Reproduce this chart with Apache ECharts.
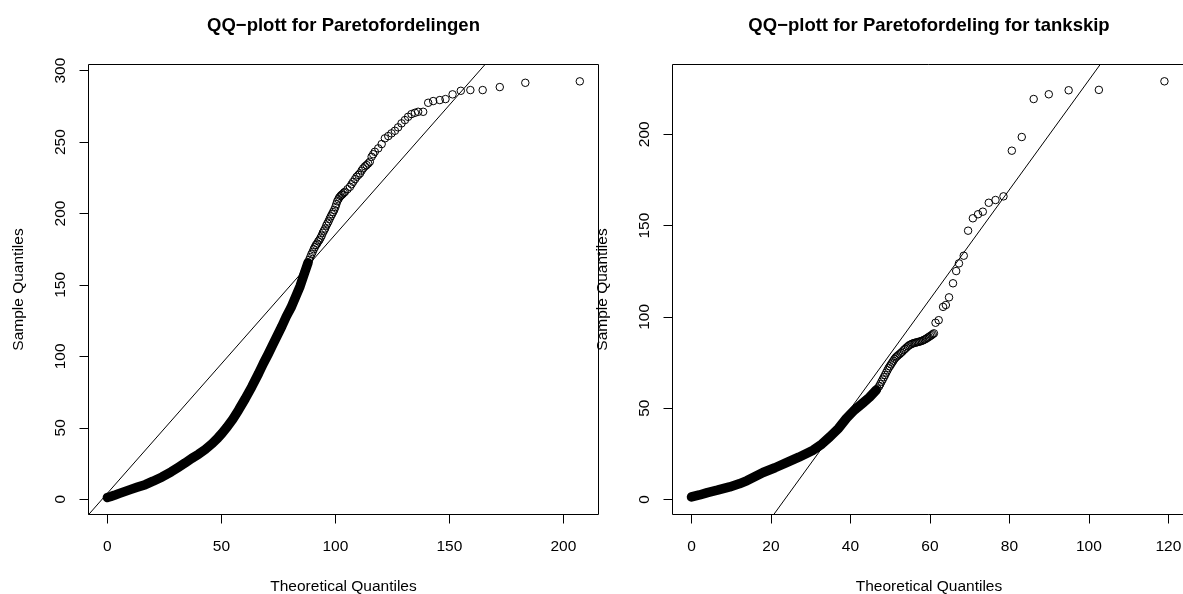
<!DOCTYPE html>
<html>
<head>
<meta charset="utf-8">
<script src="https://cdn.jsdelivr.net/npm/echarts@6/dist/echarts.min.js"></script>
<style>
  html, body { margin: 0; padding: 0; background: #fff; }
  #chart { width: 1183px; height: 594px; }
</style>
</head>
<body>
<div id="chart"></div>
<script>
// venstre panel: Paretofordelingen
// tett del av kurven (sammenhengende svart bånd)
const leftBandX = [0, 1.5, 3, 5, 7.5, 10, 13, 16.6, 20, 24, 28, 31.2, 34, 37, 40, 42.9, 46, 48.5, 50.2, 52.5, 55, 57.5, 60.5, 63.3, 66.3, 68.4, 70.5, 72.5, 74.5, 76.5, 78.5, 80.5, 82.5, 84.5, 86.5, 88];
const leftBandY = [1.2, 1.9, 2.7, 3.9, 5.3, 6.7, 8.3, 10.2, 12.6, 15.6, 19.2, 22.4, 25.3, 28.6, 31.5, 34.8, 39, 43, 46, 50.5, 56, 62.3, 70.5, 78.6, 88, 95, 101.5, 108, 114.5, 121, 128, 134, 141.5, 149, 158.5, 165.5];
// enkeltpunkter (sirkler)
const leftPtX = [85.0, 85.5, 86.0, 86.5, 87.0, 87.5, 88.0, 88.5, 89.0, 89.5, 90.0, 90.5, 91.0, 91.5, 92.0, 92.5, 93.0, 93.5, 94.0, 94.5, 95.0, 95.5, 96.0, 96.5, 97.0, 97.5, 98.0, 98.5, 99.0, 99.5, 100.0, 100.4, 100.8, 101.3, 101.7, 102.2, 102.7, 103.1, 103.7, 104.2, 105.3, 106.4, 107.1, 107.8, 108.6, 109.3, 110.1, 110.8, 111.5, 112.2, 113.0, 113.7, 114.4, 115.1, 115.9, 116.6, 117.3, 118.8, 120.3, 121.7, 123.2, 124.6, 126.1, 127.5, 129.0, 130.5, 131.9, 133.4, 134.9, 136.3, 138.5, 140.7, 142.9, 145.8, 148.3, 151.4, 155.0, 159.2, 164.6, 172.1, 183.3, 207.2];
const leftPtY = [152, 154.5, 157, 159, 161, 163.5, 165.5, 167.5, 169.5, 171.5, 173, 175, 176.5, 178, 179, 180.5, 181.5, 183, 184.5, 186.5, 188, 189.5, 191.5, 193, 194.5, 196.3, 198, 199.5, 201, 202.5, 204.5, 206.5, 208.5, 210, 211.2, 212.2, 213, 213.5, 214.5, 215.2, 217, 218.7, 220.5, 222.2, 224, 225.7, 227, 228.1, 230, 231.6, 233, 233.9, 235, 236.2, 239.7, 241.5, 243.2, 245.6, 248.6, 252.6, 254.2, 256.1, 257.9, 260.3, 263.1, 265.4, 267.7, 269.6, 270.5, 271.2, 271.2, 277.5, 278.7, 279.4, 280.1, 283.4, 285.9, 286.4, 286.4, 288.5, 291.5, 292.5];
const leftXTicks = [0, 50, 100, 150, 200];
const leftYTicks = [0, 50, 100, 150, 200, 250, 300];
const leftXRange = [-8.28, 215.4];
const leftYRange = [-10.7, 304.3];
const leftIntercept = 4.16;
const leftSlope = 1.812;

// høyre panel: tankskip
const rightBandX = [0, 2, 4, 6.5, 9.6, 12, 14, 16, 18, 21, 23.9, 27, 30.6, 32.8, 34.8, 37, 39, 41, 43.2, 44.8, 46.5];
const rightBandY = [1.4, 2.5, 3.8, 5.1, 6.9, 8.6, 10.4, 12.6, 14.8, 17.4, 20.2, 23.2, 27, 30.4, 34.3, 39, 44.5, 49, 53, 56, 60];
const rightPtX = [44.0, 44.4, 44.8, 45.2, 45.6, 46.0, 46.4, 46.8, 47.2, 47.5, 47.8, 48.1, 48.4, 48.7, 49.0, 49.3, 49.6, 49.9, 50.2, 50.5, 50.8, 51.1, 51.4, 51.7, 52.0, 52.35, 52.7, 53.05, 53.4, 53.75, 54.1, 54.45, 54.8, 55.15, 55.5, 55.85, 56.2, 56.55, 56.9, 57.25, 57.6, 57.95, 58.3, 58.65, 59.0, 59.35, 59.7, 60.05, 60.4, 60.7, 61.0, 61.4, 62.2, 63.3, 64.0, 64.8, 65.8, 66.6, 67.3, 68.5, 69.6, 70.8, 72.1, 73.3, 74.8, 76.5, 78.5, 80.6, 83.1, 86.1, 89.9, 94.9, 102.5, 119.0];
const rightPtY = [54.5, 55.3, 56.2, 57.1, 58, 58.9, 59.8, 60.8, 62, 63.2, 64.5, 65.7, 67, 68.2, 69.5, 70.8, 72, 73, 74, 75, 76, 77, 77.8, 78.4, 79, 79.6, 80.3, 81, 81.8, 82.5, 83.2, 83.9, 84.5, 84.9, 85.3, 85.6, 85.8, 86, 86.2, 86.4, 86.6, 86.9, 87.2, 87.6, 88, 88.5, 89, 89.5, 90, 90.5, 91, 96.8, 98.2, 105.5, 106.5, 110.7, 118.4, 125.1, 129.3, 133.5, 147.2, 154, 156.2, 157.6, 162.5, 164, 166, 191, 198.5, 219.3, 221.9, 224.1, 224.3, 229];
const rightXTicks = [0, 20, 40, 60, 80, 100, 120];
const rightYTicks = [0, 50, 100, 150, 200];
const rightXRange = [-4.78, 124.3];
const rightYRange = [-8.2, 238.2];
const rightIntercept = -70.3;
const rightSlope = 3.0;

const FONT = '"Liberation Sans", Arial, Helvetica, sans-serif';
const zip = (xs, ys) => xs.map((x, i) => [x, ys[i]]);

const myChart = echarts.init(document.getElementById('chart'), null, { renderer: 'canvas' });

function xAxisOpt(gridIndex, range, ticks) {
  return {
    type: 'value',
    gridIndex,
    min: range[0],
    max: range[1],
    name: 'Theoretical Quantiles',
    nameLocation: 'middle',
    nameGap: 64,
    nameTextStyle: { color: '#000', fontSize: 15.5, fontFamily: FONT },
    axisLine: { show: false, onZero: false },
    axisTick: { show: true, customValues: ticks, length: 9, lineStyle: { color: '#000', width: 1 } },
    axisLabel: { customValues: ticks, color: '#000', fontSize: 15.5, fontFamily: FONT, margin: 24 },
    splitLine: { show: false }
  };
}

function yAxisOpt(gridIndex, range, ticks) {
  return {
    type: 'value',
    gridIndex,
    min: range[0],
    max: range[1],
    name: 'Sample Quantiles',
    nameLocation: 'middle',
    nameGap: 62,
    nameTextStyle: { color: '#000', fontSize: 15.5, fontFamily: FONT },
    axisLine: { show: false, onZero: false },
    axisTick: { show: true, customValues: ticks, length: 9, lineStyle: { color: '#000', width: 1 } },
    axisLabel: { customValues: ticks, rotate: 90, color: '#000', fontSize: 15.5, fontFamily: FONT, margin: 20 },
    splitLine: { show: false }
  };
}

function bandSeries(idx, xs, ys) {
  return {
    type: 'line',
    xAxisIndex: idx,
    yAxisIndex: idx,
    data: zip(xs, ys),
    showSymbol: false,
    symbol: 'none',
    lineStyle: { color: '#000', width: 9.5, cap: 'round', join: 'round' },
    silent: true
  };
}

function pointSeries(idx, xs, ys) {
  return {
    type: 'scatter',
    xAxisIndex: idx,
    yAxisIndex: idx,
    data: zip(xs, ys),
    symbol: 'circle',
    symbolSize: 7.5,
    itemStyle: { color: 'rgba(0,0,0,0)', borderColor: '#000', borderWidth: 1, opacity: 1 },
    silent: true
  };
}

// qqline: a + b*x, fra aksens min til max (klippes av grid)
function ablineSeries(idx, range, a, b) {
  return {
    type: 'line',
    xAxisIndex: idx,
    yAxisIndex: idx,
    data: range.map(x => [x, a + b * x]),
    symbol: 'none',
    clip: true,
    lineStyle: { color: '#000', width: 1 },
    silent: true
  };
}

const option = {
  animation: false,
  backgroundColor: '#fff',
  title: [
    {
      text: 'QQ\u2212plott for Paretofordelingen',
      left: 343.5, top: 16, textAlign: 'center', padding: 0,
      textStyle: { color: '#000', fontSize: 18.5, fontWeight: 'bold', fontFamily: FONT }
    },
    {
      text: 'QQ\u2212plott for Paretofordeling for tankskip',
      left: 929, top: 16, textAlign: 'center', padding: 0,
      textStyle: { color: '#000', fontSize: 18.5, fontWeight: 'bold', fontFamily: FONT }
    }
  ],
  grid: [
    { left: 88.5, top: 64.5, width: 510, height: 450, show: true, borderColor: '#000', borderWidth: 1, backgroundColor: 'transparent', containLabel: false, outerBoundsMode: 'none' },
    { left: 672.5, top: 64.5, width: 513, height: 450, show: true, borderColor: '#000', borderWidth: 1, backgroundColor: 'transparent', containLabel: false, outerBoundsMode: 'none' }
  ],
  xAxis: [
    xAxisOpt(0, leftXRange, leftXTicks),
    xAxisOpt(1, rightXRange, rightXTicks)
  ],
  yAxis: [
    yAxisOpt(0, leftYRange, leftYTicks),
    yAxisOpt(1, rightYRange, rightYTicks)
  ],
  series: [
    bandSeries(0, leftBandX, leftBandY),
    pointSeries(0, leftPtX, leftPtY),
    ablineSeries(0, leftXRange, leftIntercept, leftSlope),
    bandSeries(1, rightBandX, rightBandY),
    pointSeries(1, rightPtX, rightPtY),
    ablineSeries(1, rightXRange, rightIntercept, rightSlope)
  ]
};

myChart.setOption(option);
</script>
</body>
</html>
